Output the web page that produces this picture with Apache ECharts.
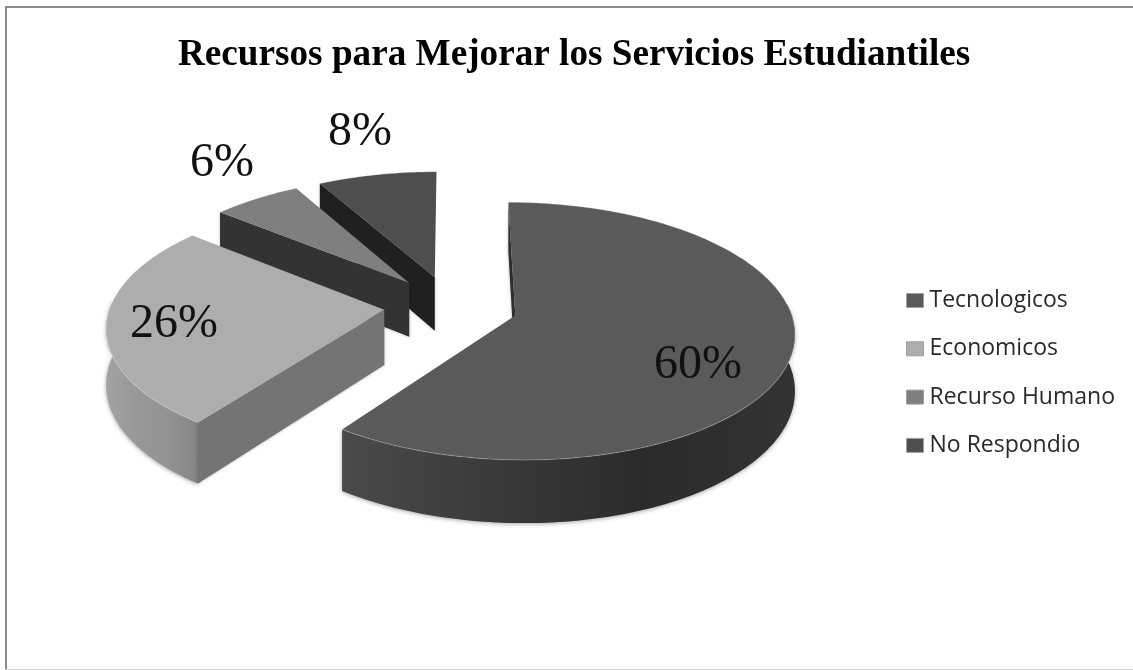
<!DOCTYPE html>
<html><head><meta charset="utf-8">
<style>html,body{margin:0;padding:0;background:#fff}#c{width:1133px;height:670px}</style>
<script src="https://cdn.jsdelivr.net/npm/echarts@6/dist/echarts.min.js"></script>
</head><body><div id="c"></div>
<script>
const titleText = 'Recursos para Mejorar los Servicios Estudiantiles';
const categories = ['Tecnologicos', 'Economicos', 'Recurso Humano', 'No Respondio'];
const values = [60, 26, 6, 8];

// appearance, one entry per slice
const topColors = ['#5a5a5a', '#adadad', '#7f7f7f', '#4e4e4e'];
const wallColors = ['#2e2e2e', '#747474', '#333333', '#202020'];
const rimStops = [['#4a4a4a', '#3a3a3a', '#2b2b2b', '#333333'], ['#a2a2a2', '#989898', '#939393', '#858585'], ['#555555', '#555555', '#555555', '#555555'], ['#333333', '#333333', '#333333', '#333333']];
const legendColors = ['#5a5a5a', '#adadad', '#7f7f7f', '#4e4e4e'];
const labelAt = [[698, 365], [174, 324], [222, 163], [360, 132]];

// projection of the tilted pie
const origin = [451, 306], R = 274, tilt = 0.455, persp = 0.12, explode = 67, thick = 55;
const total = values.reduce((a, b) => a + b, 0);

function project(X, Y, z) {
  const s = 1 / (1 + persp * Y / R);
  return [origin[0] + X * s, origin[1] - Y * tilt * s + z * s];
}
function sliceGeom(i) {
  const before = values.slice(0, i).reduce((a, b) => a + b, 0);
  const a0 = before / total * 2 * Math.PI, a1 = (before + values[i]) / total * 2 * Math.PI;
  const mid = (a0 + a1) / 2;
  const ax = explode * Math.sin(mid), ay = explode * Math.cos(mid);
  const arc = (from, to) => {
    const n = Math.max(4, Math.ceil(Math.abs(to - from) / 0.02)), out = [];
    for (let k = 0; k <= n; k++) {
      const t = from + (to - from) * k / n;
      out.push([ax + R * Math.sin(t), ay + R * Math.cos(t)]);
    }
    return out;
  };
  return { a0, a1, ax, ay, arc };
}
function renderSlice(i) {
  return function (params, api) {
    api.value(0);
    const g = sliceGeom(i);
    const rim = g.arc(g.a0, g.a1);
    const topPts = [project(g.ax, g.ay, 0)].concat(rim.map(p => project(p[0], p[1], 0)));
    const startEdge = rim[0];
    const wall = [project(g.ax, g.ay, 0), project(startEdge[0], startEdge[1], 0), project(startEdge[0], startEdge[1], thick), project(g.ax, g.ay, thick)];
    // the outer band is only drawn over the part of the arc that faces the viewer
    let front = rim.filter(p => (p[1] - g.ay) < R * 0.1);
    const kids = [];
    if (front.length > 1) {
      const band = front.map(p => project(p[0], p[1], 0)).concat(front.slice().reverse().map(p => project(p[0], p[1], thick)));
      kids.push({ type: 'polygon', shape: { points: band }, style: {
        fill: { type: 'linear', x: 0, y: 0, x2: 1, y2: 0, colorStops: rimStops[i].map((c, k) => ({ offset: k / 3, color: c })) },
        shadowBlur: 4, shadowColor: 'rgba(0,0,0,0.35)', shadowOffsetY: 1 } });
    }
    kids.push({ type: 'polygon', shape: { points: wall }, style: { fill: wallColors[i], shadowBlur: 3, shadowColor: 'rgba(0,0,0,0.3)' } });
    kids.push({ type: 'polygon', shape: { points: topPts }, style: { fill: topColors[i] } });
    kids.push({ type: 'polyline', shape: { points: rim.map(p => project(p[0], p[1], 0)) }, style: { fill: 'none', stroke: 'rgba(255,255,255,0.22)', lineWidth: 1.2 } });
    kids.push({ type: 'text', style: { text: values[i] + '%', x: labelAt[i][0], y: labelAt[i][1], align: 'center', verticalAlign: 'middle', fill: '#111', font: '48px "Liberation Serif", serif' }, z2: 100 });
    return { type: 'group', children: kids };
  };
}

const series = categories.map((name, i) => ({
  type: 'custom', name, coordinateSystem: 'none', data: [values[i]], silent: true, animation: false,
  clip: false, z: 10 - i, renderItem: renderSlice(i), itemStyle: { color: legendColors[i] }
}));

const chart = echarts.init(document.getElementById('c'), null, { renderer: 'canvas' });
chart.setOption({
  animation: false,
  backgroundColor: '#ffffff',
  title: { text: titleText, left: 178, top: 37, padding: 0, textStyle: { fontFamily: '"Liberation Serif", serif', fontWeight: 'bold', fontSize: 37.2, color: '#000' } },
  legend: {
    data: categories, orient: 'vertical', left: 906, top: 289, itemWidth: 17, itemHeight: 14, itemGap: 25.3, icon: 'rect', padding: 0, selectedMode: false,
    itemStyle: { borderColor: '#a0a0a0', borderWidth: 1 },
    textStyle: { fontFamily: '"Open Sans", sans-serif', fontSize: 23, color: '#2a2a2a', padding: [0, 0, 0, 1], lineHeight: 23 }
  },
  graphic: [
    { type: 'rect', shape: { x: 5, y: 6, width: 1128, height: 2 }, style: { fill: '#8a8a8a' }, silent: true },
    { type: 'rect', shape: { x: 5, y: 6, width: 2, height: 664 }, style: { fill: '#8a8a8a' }, silent: true },
    { type: 'rect', shape: { x: 5, y: 669, width: 1128, height: 1 }, style: { fill: '#d4d4d4' }, silent: true }
  ],
  series
});
</script></body></html>
